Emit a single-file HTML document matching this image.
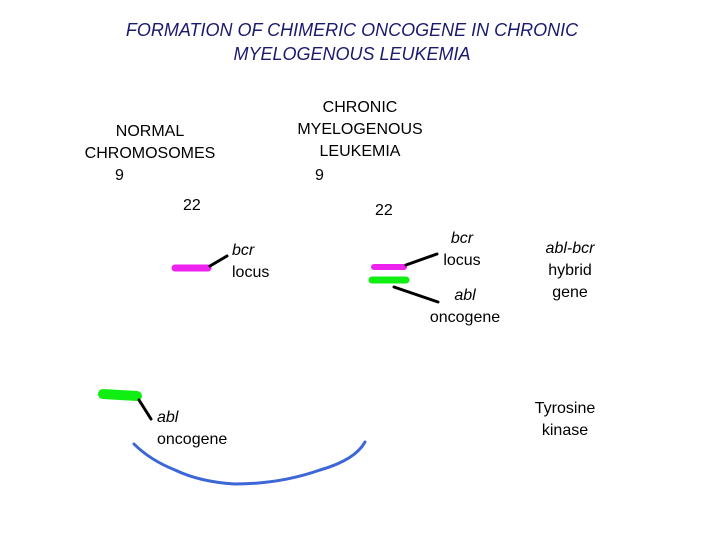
<!DOCTYPE html>
<html><head><style>
body{margin:0;width:720px;height:540px;background:#fff;position:relative;overflow:hidden;font-family:"Liberation Sans",sans-serif;color:#000}
.t{position:absolute;font-size:16px;line-height:22px;text-align:center;white-space:nowrap}
.title{position:absolute;left:0;width:704px;text-align:center;font-style:italic;color:#1a1a70;font-size:18px;line-height:24px;top:18px}
svg{position:absolute;left:0;top:0}
</style></head><body>
<div class="title">FORMATION OF CHIMERIC ONCOGENE IN CHRONIC<br>MYELOGENOUS LEUKEMIA</div>
<div class="t" style="left:70px;top:121px;width:160px">NORMAL<br>CHROMOSOMES</div>
<div class="t" style="left:115px;top:165px">9</div>
<div class="t" style="left:183px;top:195px">22</div>
<div class="t" style="left:280px;top:97px;width:160px">CHRONIC<br>MYELOGENOUS<br>LEUKEMIA</div>
<div class="t" style="left:315px;top:165px">9</div>
<div class="t" style="left:375px;top:200px">22</div>
<div class="t" style="left:232px;top:240px;text-align:left"><i>bcr</i><br>locus</div>
<div class="t" style="left:437px;top:228px;width:50px"><i>bcr</i><br>locus</div>
<div class="t" style="left:420px;top:285px;width:90px"><i>abl</i><br>oncogene</div>
<div class="t" style="left:530px;top:238px;width:80px"><i>abl-bcr</i><br>hybrid<br>gene</div>
<div class="t" style="left:157px;top:407px;text-align:left"><i>abl</i><br>oncogene</div>
<div class="t" style="left:520px;top:398px;width:90px">Tyrosine<br>kinase</div>
<svg width="720" height="540">
<g stroke-linecap="round" fill="none">
<path d="M175 268 L208 268" stroke="#ee22ee" stroke-width="7"/>
<path d="M374 267 L404 267" stroke="#ee22ee" stroke-width="6"/>
<path d="M372 280 L406 280" stroke="#11ee11" stroke-width="7"/>
<path d="M103 394 L137 396" stroke="#11ee11" stroke-width="10"/>
<path d="M210 266 L227 256 M406 265 L437 254 M394 287 L438 302 M139 400 L151 419" stroke="#000" stroke-width="3"/>
<path d="M134 444 Q150 460 175 470 Q200 482 235 484 Q280 484 320 470 Q355 460 365 442" stroke="#3d66d6" stroke-width="3"/>
</g>
</svg>
</body></html>
